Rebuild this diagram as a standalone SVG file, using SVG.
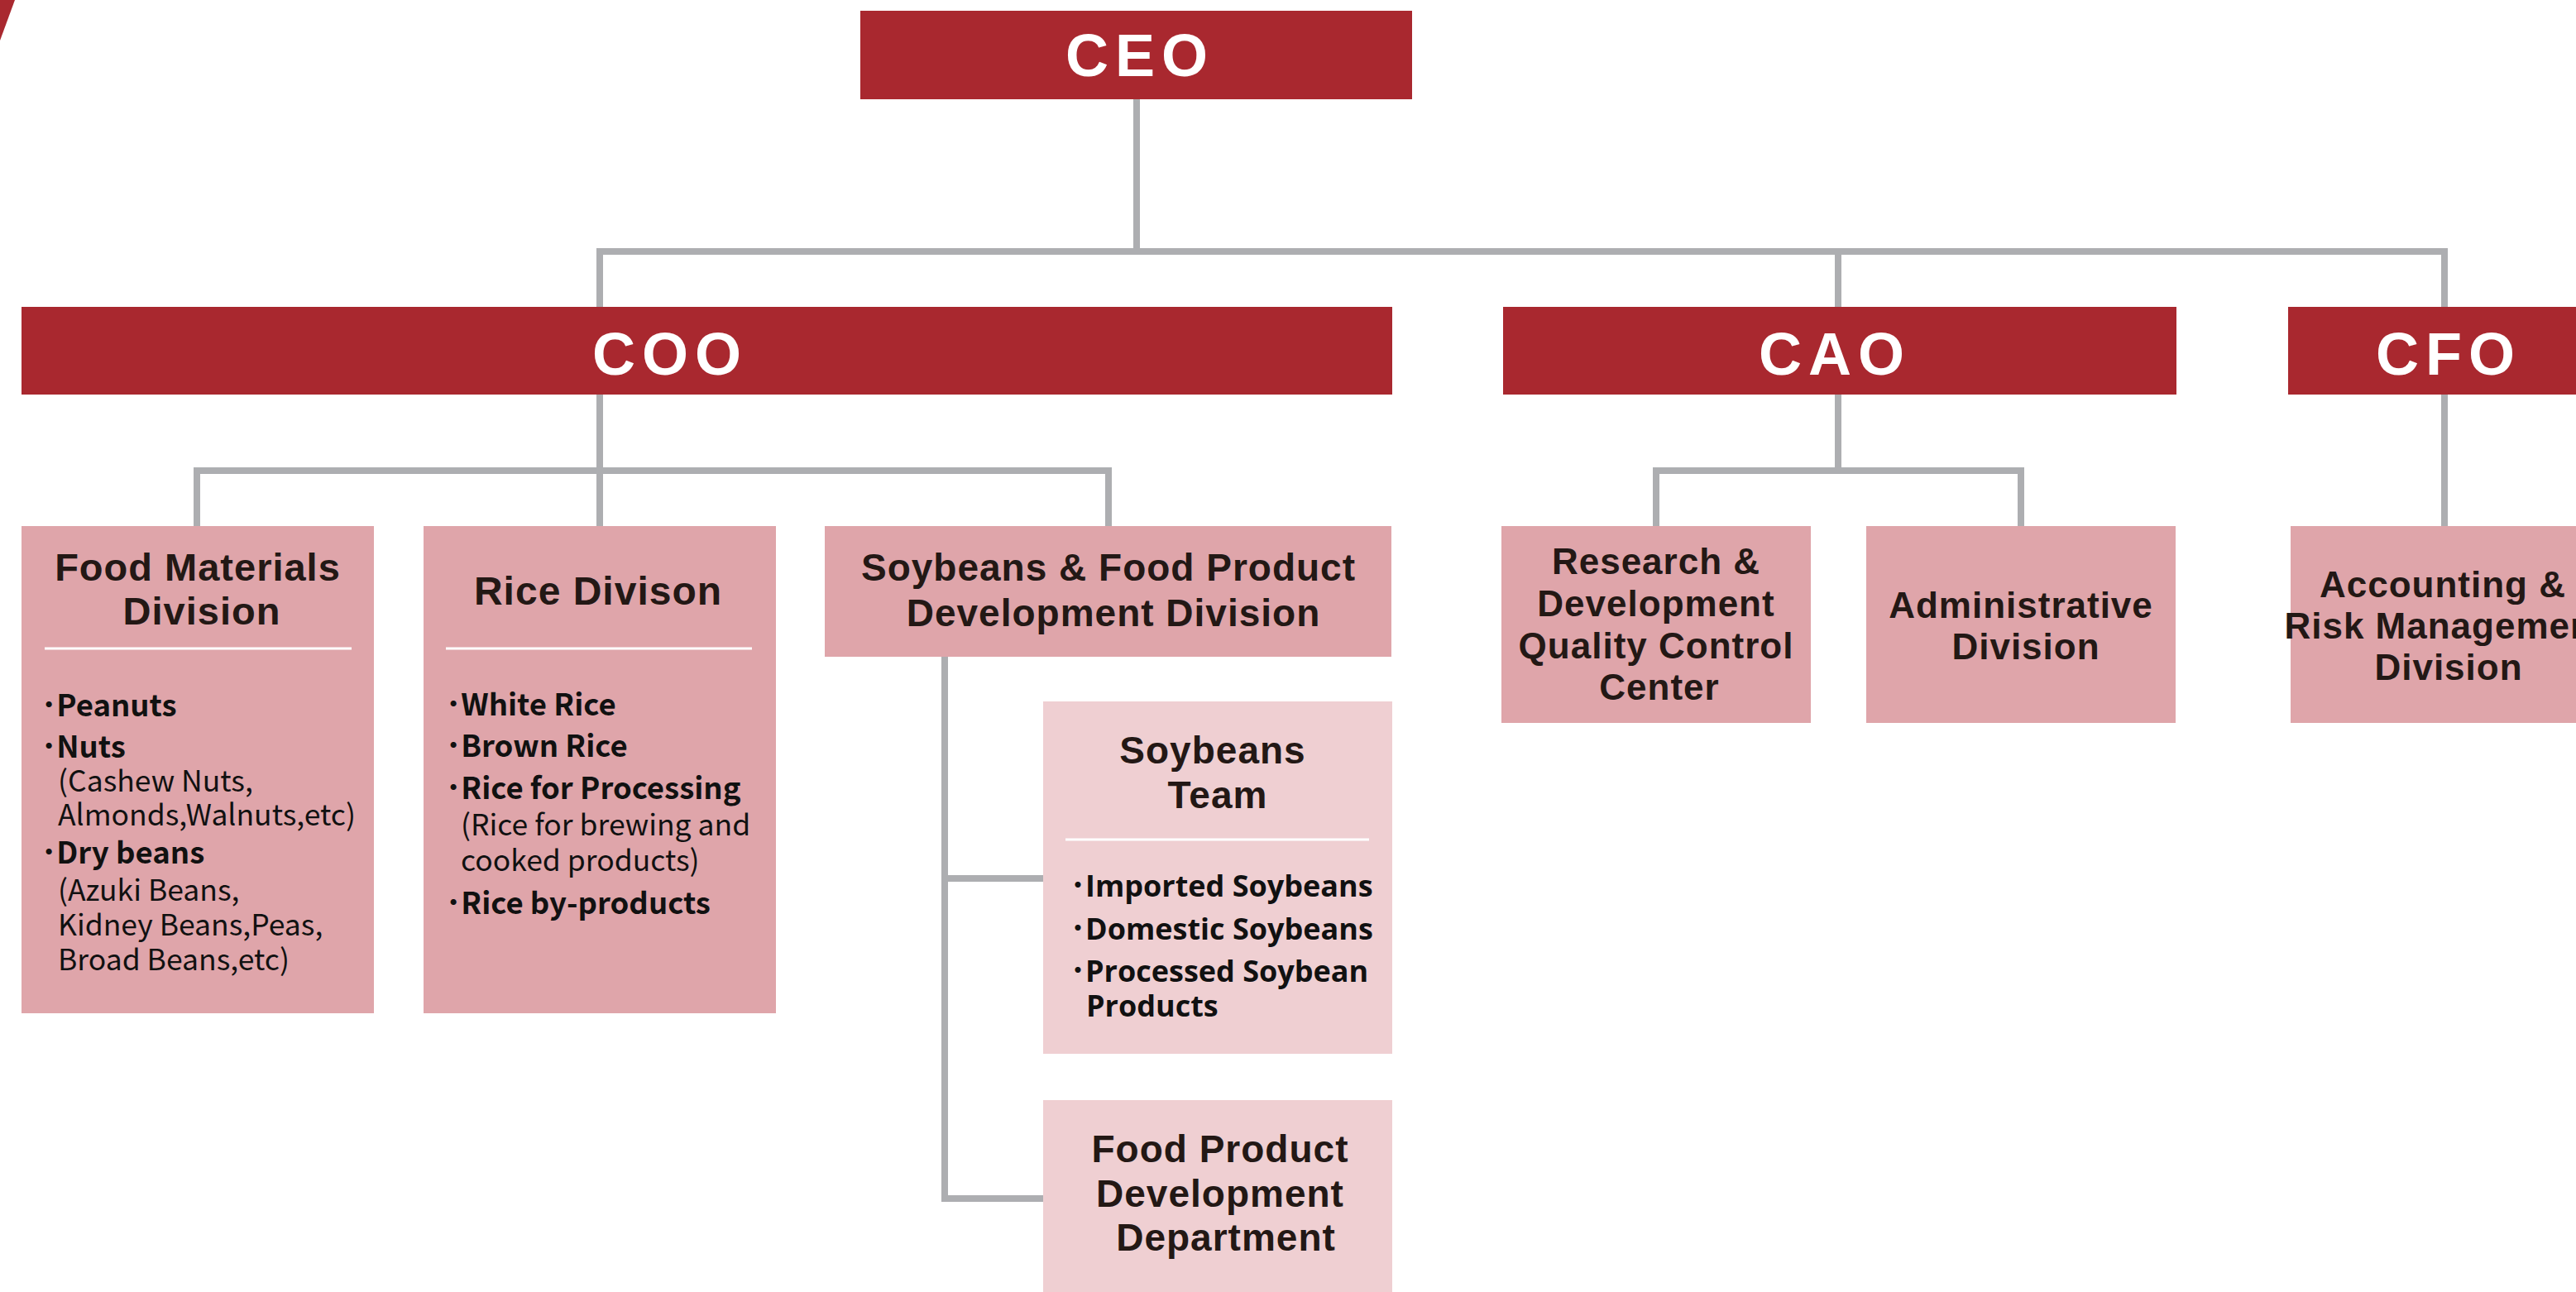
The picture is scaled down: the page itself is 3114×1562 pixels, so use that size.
<svg xmlns="http://www.w3.org/2000/svg" width="3114" height="1562" viewBox="0 0 3114 1562">
<style>
.red{fill:#a9282f}
.pk{fill:#dfa5aa}
.lp{fill:#efcfd2}
.exec{font-family:"Liberation Sans",Arial,sans-serif;font-weight:700;font-size:72px;fill:#fff;letter-spacing:8px;text-anchor:middle}
.ttl{font-family:"Liberation Sans",Arial,sans-serif;font-weight:700;fill:#231815;text-anchor:middle;letter-spacing:1px}
.it{font-family:"Noto Sans CJK JP","Noto Sans",sans-serif;font-size:35.5px;fill:#111}
.b{font-weight:700;font-size:36.5px}
.st{font-family:"Open Sans","Noto Sans CJK JP",sans-serif;font-weight:700;font-size:36px;fill:#111}
.sep{stroke:#fff;stroke-width:3}
.cn{fill:none;stroke:#adaeb1;stroke-width:8;stroke-linejoin:miter}
</style>
<rect width="3114" height="1562" fill="#fff"/>
<polygon class="red" points="0,0 18,0 0,49"/>
<g id="connectors">
<path class="cn" d="M1374 120 V304"/>
<path class="cn" d="M725 371 V304 H2955 V371"/>
<path class="cn" d="M2222 304 V371"/>
<path class="cn" d="M725 477 V636"/>
<path class="cn" d="M238 636 V569 H1340 V636"/>
<path class="cn" d="M2222 477 V569"/>
<path class="cn" d="M2002 636 V569 H2443 V636"/>
<path class="cn" d="M2955 477 V636"/>
<path class="cn" d="M1261 1449 H1142 V794"/>
<path class="cn" d="M1142 1062 H1261"/>
</g>
<g id="ceo">
<rect class="red" x="1040" y="13" width="667" height="107"/>
<text class="exec" x="1378" y="92">CEO</text>
</g>
<g id="coo">
<rect class="red" x="26" y="371" width="1657" height="106"/>
<text class="exec" x="810" y="453">COO</text>
</g>
<g id="cao">
<rect class="red" x="1817" y="371" width="814" height="106"/>
<text class="exec" x="2218" y="453">CAO</text>
</g>
<g id="cfo">
<rect class="red" x="2766" y="371" width="380" height="106"/>
<text class="exec" x="2960" y="453">CFO</text>
</g>
<g id="food-materials">
<rect class="pk" x="26" y="636" width="426" height="589"/>
<text class="ttl" font-size="47" x="239" y="702">Food Materials</text>
<text class="ttl" font-size="47" x="244" y="755">Division</text>
<line class="sep" x1="54" y1="784" x2="425" y2="784"/>
<text class="it b" x="50" y="866">･Peanuts</text>
<text class="it b" x="50" y="916">･Nuts</text>
<text class="it" x="70" y="957">(Cashew Nuts,</text>
<text class="it" x="70" y="998">Almonds,Walnuts,etc)</text>
<text class="it b" x="50" y="1044">･Dry beans</text>
<text class="it" x="70" y="1089">(Azuki Beans,</text>
<text class="it" x="70" y="1131">Kidney Beans,Peas,</text>
<text class="it" x="70" y="1173">Broad Beans,etc)</text>
</g>
<g id="rice">
<rect class="pk" x="512" y="636" width="426" height="589"/>
<text class="ttl" font-size="48" letter-spacing="1.5" x="723" y="731">Rice Divison</text>
<line class="sep" x1="539" y1="784" x2="909" y2="784"/>
<text class="it b" x="539" y="865">･White Rice</text>
<text class="it b" x="539" y="915">･Brown Rice</text>
<text class="it b" x="539" y="966">･Rice for Processing</text>
<text class="it" x="557" y="1010">(Rice for brewing and</text>
<text class="it" x="557" y="1053">cooked products)</text>
<text class="it b" x="539" y="1105">･Rice by-products</text>
</g>
<g id="soy-food">
<rect class="pk" x="997" y="636" width="685" height="158"/>
<text class="ttl" font-size="46" x="1340" y="702">Soybeans &amp; Food Product</text>
<text class="ttl" font-size="46" x="1346" y="757">Development Division</text>
</g>
<g id="soy-team">
<rect class="lp" x="1261" y="848" width="422" height="426"/>
<text class="ttl" font-size="46" x="1466" y="923">Soybeans</text>
<text class="ttl" font-size="46" x="1472" y="977">Team</text>
<line class="sep" x1="1288" y1="1015" x2="1655" y2="1015"/>
<text class="st" x="1294" y="1084">･Imported Soybeans</text>
<text class="st" x="1294" y="1136">･Domestic Soybeans</text>
<text class="st" x="1294" y="1187">･Processed Soybean</text>
<text class="st" x="1313" y="1229">Products</text>
</g>
<g id="food-product-dev">
<rect class="lp" x="1261" y="1330" width="422" height="240"/>
<text class="ttl" font-size="46" x="1475" y="1405">Food Product</text>
<text class="ttl" font-size="46" x="1475" y="1459">Development</text>
<text class="ttl" font-size="46" x="1482" y="1512">Department</text>
</g>
<g id="rd">
<rect class="pk" x="1815" y="636" width="374" height="238"/>
<text class="ttl" font-size="44" letter-spacing="0.6" x="2002" y="694">Research &amp;</text>
<text class="ttl" font-size="44" letter-spacing="0.6" x="2002" y="745">Development</text>
<text class="ttl" font-size="44" letter-spacing="0.6" x="2002" y="796">Quality Control</text>
<text class="ttl" font-size="44" letter-spacing="0.6" x="2006" y="846">Center</text>
</g>
<g id="admin">
<rect class="pk" x="2256" y="636" width="374" height="238"/>
<text class="ttl" font-size="44" letter-spacing="0.6" x="2443" y="747">Administrative</text>
<text class="ttl" font-size="44" letter-spacing="0.6" x="2449" y="797">Division</text>
</g>
<g id="accounting">
<rect class="pk" x="2769" y="636" width="378" height="238"/>
<text class="ttl" font-size="44" letter-spacing="0.6" x="2953" y="722">Accounting &amp;</text>
<text class="ttl" font-size="44" letter-spacing="0.6" x="2956" y="772">Risk Management</text>
<text class="ttl" font-size="44" letter-spacing="0.6" x="2960" y="822">Division</text>
</g>
</svg>
